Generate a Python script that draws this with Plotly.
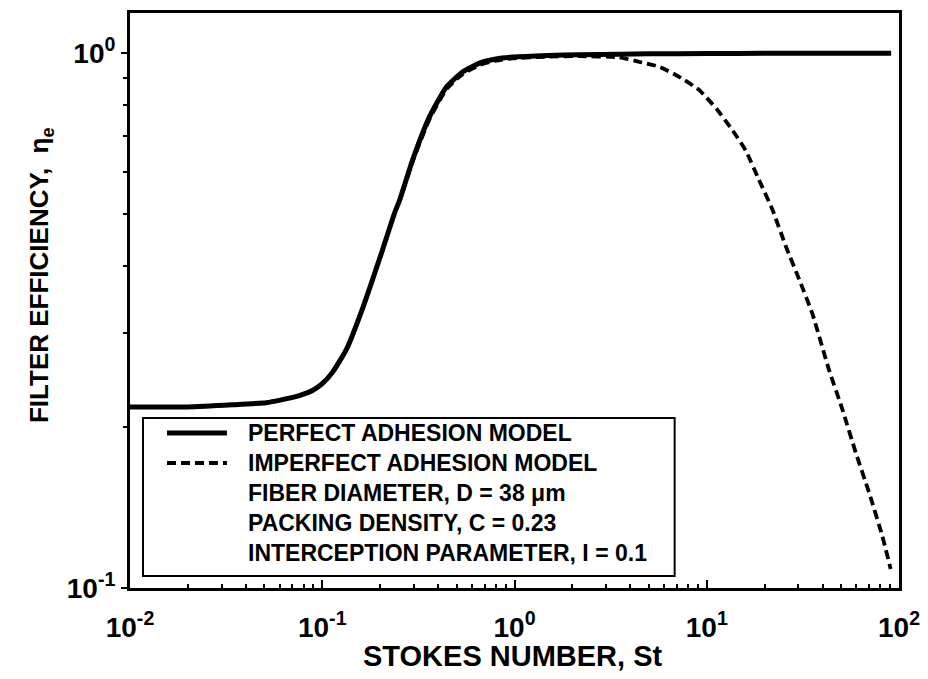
import plotly.graph_objects as go

# ---- data ----
st_perfect = [0.01, 0.02, 0.034, 0.051, 0.062, 0.076, 0.089, 0.1, 0.113, 0.134, 0.162,
              0.206, 0.238, 0.253, 0.295, 0.361, 0.443, 0.537, 0.658, 0.8, 0.977,
              1.5, 2.18, 3.5, 5, 10, 20, 50, 91]
eta_perfect = [0.218, 0.218, 0.220, 0.222, 0.225, 0.229, 0.234, 0.241, 0.253, 0.280, 0.333,
               0.429, 0.503, 0.532, 0.631, 0.760, 0.865, 0.922, 0.958, 0.975, 0.983,
               0.990, 0.993, 0.995, 0.997, 0.998, 0.999, 0.999, 0.999]

st_imperfect = [0.01, 0.02, 0.034, 0.051, 0.062, 0.076, 0.089, 0.1, 0.113, 0.134, 0.162,
                0.206, 0.238, 0.253, 0.295, 0.361, 0.443, 0.537, 0.658, 0.8, 0.977,
                1.5, 2.18, 3.51, 4.46, 5.66, 7.19, 9.14, 11.2, 13.6, 16.0, 18.6, 22.0,
                25.8, 30.3, 35.5, 43.2, 50.7, 59.6, 69.8, 81.9, 90.5]
eta_imperfect = [0.218, 0.218, 0.220, 0.222, 0.225, 0.229, 0.234, 0.241, 0.253, 0.280, 0.333,
                 0.429, 0.503, 0.530, 0.627, 0.752, 0.856, 0.913, 0.950, 0.968, 0.978,
                 0.985, 0.987, 0.982, 0.963, 0.943, 0.903, 0.853, 0.788, 0.718, 0.656, 0.582, 0.509,
                 0.435, 0.377, 0.325, 0.256, 0.216, 0.179, 0.151, 0.125, 0.1085]

x_tick_vals = [0.01, 0.1, 1, 10, 100]
x_tick_text = ["10<sup>-2</sup>", "10<sup>-1</sup>", "10<sup>0</sup>", "10<sup>1</sup>", "10<sup>2</sup>"]
y_tick_vals = [0.1, 1]
y_tick_text = ["10<sup>-1</sup>", "10<sup>0</sup>"]

x_title = "STOKES NUMBER, St"
y_title = "FILTER EFFICIENCY,  η<sub>e</sub>"
legend_labels = ["PERFECT ADHESION MODEL", "IMPERFECT ADHESION MODEL",
                 "FIBER DIAMETER, D = 38 μm", "PACKING DENSITY, C = 0.23",
                 "INTERCEPTION PARAMETER, I = 0.1"]

FONT = "Liberation Sans, Arial, Helvetica, sans-serif"

x_minor = [m * 10 ** e for e in (-2, -1, 0, 1) for m in range(2, 10)]
y_minor = [m * 0.1 for m in range(2, 10)]

fig = go.Figure()
fig.add_trace(go.Scatter(x=st_perfect, y=eta_perfect, mode="lines",
                         line=dict(color="black", width=5, shape="spline", smoothing=0.5),
                         showlegend=False))
fig.add_trace(go.Scatter(x=st_imperfect, y=eta_imperfect, mode="lines",
                         line=dict(color="black", width=3.8, dash="9px,5px", shape="spline", smoothing=0.5),
                         showlegend=False))

# page body adds an 8px offset; screen targets: plot 130..899.5 x 13..588
OFF = 8
W, H = 928 - OFF, 679 - OFF
L_S, R_S, T_S, B_S = 130, 899.5, 13, 588
ml, mt = L_S - OFF, T_S - OFF
mr, mb = W - (R_S - OFF), H - (B_S - OFF)
pw, ph = R_S - L_S, B_S - T_S

def px(x):
    return (x - L_S) / pw

def py(y):
    return (B_S - y) / ph

# legend box
shapes = [dict(type="rect", xref="paper", yref="paper",
               x0=px(143), x1=px(675), y0=py(576), y1=py(418),
               line=dict(color="black", width=2), fillcolor="white", layer="above")]
row_y = [433, 463, 493, 523, 553]
shapes.append(dict(type="line", xref="paper", yref="paper", x0=px(167), x1=px(227),
                   y0=py(row_y[0]), y1=py(row_y[0]), line=dict(color="black", width=5)))
shapes.append(dict(type="line", xref="paper", yref="paper", x0=px(167), x1=px(227),
                   y0=py(row_y[1]), y1=py(row_y[1]), line=dict(color="black", width=3.8, dash="9px,5px")))

annotations = []
for lab, ry in zip(legend_labels, row_y):
    annotations.append(dict(text=lab, xref="paper", yref="paper", x=px(246), y=py(ry),
                            xanchor="left", yanchor="middle", showarrow=False,
                            font=dict(family=FONT, size=23, color="black", weight="bold")))
annotations.append(dict(text=x_title, xref="paper", yref="paper", x=px(513), y=py(656),
                        xanchor="center", yanchor="middle", showarrow=False,
                        font=dict(family=FONT, size=29, color="black", weight="bold")))
annotations.append(dict(text=y_title, xref="paper", yref="paper", x=px(40), y=py(275),
                        xanchor="center", yanchor="middle", showarrow=False, textangle=-90,
                        font=dict(family=FONT, size=26, color="black", weight="bold")))

fig.update_layout(
    width=W, height=H,
    margin=dict(l=ml, r=mr, t=mt, b=mb, autoexpand=False),
    paper_bgcolor="white", plot_bgcolor="white",
    shapes=shapes, annotations=annotations,
    xaxis=dict(type="log", range=[-2, 2], showgrid=False, zeroline=False, automargin=False,
               showline=True, linecolor="black", linewidth=3, mirror=True,
               ticks="inside", ticklen=8, tickwidth=2, tickcolor="black",
               tickvals=x_tick_vals, ticktext=x_tick_text, ticklabelstandoff=12,
               tickfont=dict(family=FONT, size=28, color="black", weight="bold"),
               minor=dict(tickvals=x_minor, ticks="inside", ticklen=4, tickwidth=1.5,
                          tickcolor="black", showgrid=False)),
    yaxis=dict(type="log", range=[-1, 0.075], showgrid=False, zeroline=False, automargin=False,
               showline=True, linecolor="black", linewidth=3, mirror=True,
               ticks="outside", ticklen=6, tickwidth=2, tickcolor="black",
               tickvals=y_tick_vals, ticktext=y_tick_text,
               tickfont=dict(family=FONT, size=28, color="black", weight="bold"),
               minor=dict(tickvals=y_minor, ticks="outside", ticklen=4, tickwidth=1.5,
                          tickcolor="black", showgrid=False)),
)

fig.write_html("out.html")
